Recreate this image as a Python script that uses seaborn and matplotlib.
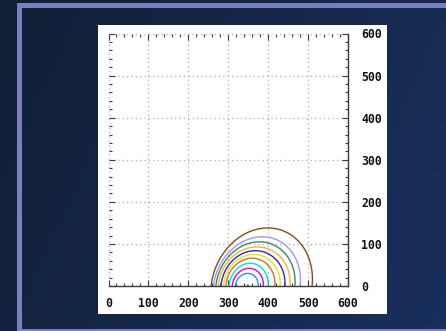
import numpy as np
import pandas as pd
import matplotlib
matplotlib.use("Agg")
import matplotlib.pyplot as plt
from matplotlib.patches import Rectangle
from matplotlib.ticker import MultipleLocator
import seaborn as sns

# Contour levels, innermost first: foot positions on the x axis, peak height, peak x
levels = ["c0", "c1", "c2", "c3", "c4", "c5", "c6", "c7", "c8", "c9", "c10"]
left_x = [347, 318, 310, 302, 294, 288, 282, 275, 269, 263, 257]
right_x = [351, 375, 388, 400, 417, 430, 442, 455, 467, 480, 510]
peak_y = [2, 30, 42, 54, 66, 75, 84, 93, 105, 117, 138]
peak_x = [349, 349, 352, 355, 360, 364, 368, 372, 378, 385, 399]
line_colors = ["#00b400", "#2f8fff", "#e000e0", "#00e0e8", "#d0703a", "#f0e000",
               "#2828d0", "#ffb030", "#2e9060", "#a890ff", "#8b4a14"]

tick_values = [0, 100, 200, 300, 400, 500, 600]

# Build each contour as a half-ellipse sheared toward its peak
rows = []
t = np.linspace(0, np.pi, 181)
for name, lx, rx, py, px in zip(levels, left_x, right_x, peak_y, peak_x):
    c = (lx + rx) / 2
    a = (rx - lx) / 2
    s = px - c
    xs = c - a * np.cos(t) + s * np.sin(t)
    ys = py * np.sin(t)
    for i, (xv, yv) in enumerate(zip(xs, ys)):
        rows.append({"level": name, "order": i, "x": xv, "y": yv})
df = pd.DataFrame(rows)

sns.set_theme(style="white")
plt.rcParams["font.family"] = ["DejaVu Sans Mono", "DejaVu Sans"]
plt.rcParams["font.weight"] = "bold"

W, H = 446, 331
fig = plt.figure(figsize=(W / 100, H / 100), dpi=100)

# Dark blue backdrop
bg = fig.add_axes([0, 0, 1, 1])
gx = np.linspace(0, 1, 64)
gy = np.linspace(0, 1, 48)
GX, GY = np.meshgrid(gx, gy)
c_left = np.array([0x12, 0x20, 0x36]) / 255
c_right = np.array([0x19, 0x2f, 0x5c]) / 255
mix = np.clip(0.75 * GX + 0.25 * GY, 0, 1)[..., None]
img = c_left * (1 - mix) + c_right * mix
bg.imshow(img, extent=[0, 1, 0, 1], aspect="auto", origin="upper")
bg.set_xlim(0, 1)
bg.set_ylim(0, 1)
bg.axis("off")

# Lavender frame (left, top and bottom edges visible)
fx0, fy_top, fy_bot = 18.5, 5.3, 331.0
fig.patches.append(Rectangle((fx0 / W, (H - fy_bot) / H), 1.2, (fy_bot - fy_top) / H,
                             transform=fig.transFigure, fill=False,
                             edgecolor="#7b7fbb", linewidth=5 * 0.72, zorder=1))

# White panel behind the chart
fig.patches.append(Rectangle((98 / W, (331 - 314) / H), 289 / W, 289 / H,
                             transform=fig.transFigure, facecolor="white",
                             edgecolor="none", zorder=2))

ax = fig.add_axes([108.5 / W, (331 - 286) / H, 239.5 / W, 252.5 / H])
ax.set_zorder(3)
ax.set_facecolor("white")

sns.lineplot(data=df, x="x", y="y", hue="level", hue_order=levels,
             palette=line_colors, units="level", estimator=None, sort=False,
             legend=False, linewidth=1.0, ax=ax)

ax.set_xlim(0, 600)
ax.set_ylim(0, 600)
ax.set_xlabel("")
ax.set_ylabel("")
ax.xaxis.set_minor_locator(MultipleLocator(20))
ax.yaxis.set_minor_locator(MultipleLocator(20))
ax.set_xticks(tick_values)
ax.set_yticks(tick_values)
ax.set_xticklabels([str(v) for v in tick_values], fontweight="bold")
ax.set_yticklabels([str(v) for v in tick_values], fontweight="bold")

ax.grid(True, which="major", color="#ababab", linestyle=(0, (1, 2.5)), linewidth=0.9)
ax.set_axisbelow(True)

for side in ["left", "top"]:
    ax.spines[side].set_visible(False)
for side in ["right", "bottom"]:
    ax.spines[side].set_visible(True)
    ax.spines[side].set_color("#3a3a3a")
    ax.spines[side].set_linewidth(1.0)

ax.yaxis.tick_right()
ax.tick_params(which="both", direction="in", top=True, bottom=True,
               left=True, right=True, color="#3a3a3a", width=0.8)
ax.tick_params(which="major", length=4)
ax.tick_params(which="minor", length=2.5)
ax.tick_params(axis="x", which="major", pad=8, labelsize=8.3, labelcolor="#111111")
ax.tick_params(axis="y", which="major", pad=9.5, labelsize=8.3, labelcolor="#111111",
               labelleft=False, labelright=True)

fig.savefig("out.png", dpi=100)
